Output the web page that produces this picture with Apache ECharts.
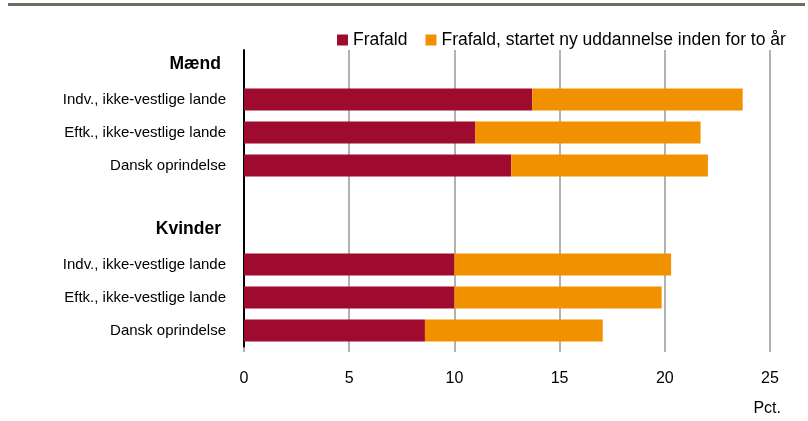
<!DOCTYPE html>
<html>
<head>
<meta charset="utf-8">
<script src="https://cdn.jsdelivr.net/npm/echarts@6/dist/echarts.min.js"></script>
<style>
  html, body { margin: 0; padding: 0; background: #fff; }
  #main { width: 808px; height: 421px; }
</style>
</head>
<body>
<div id="main"></div>
<script>
// rækker, top til bund (overskriftsrækker har ingen søjle)
var categories = ['Mænd', 'Indv., ikke-vestlige lande', 'Eftk., ikke-vestlige lande', 'Dansk oprindelse', '',
                  'Kvinder', 'Indv., ikke-vestlige lande', 'Eftk., ikke-vestlige lande', 'Dansk oprindelse'];
var headers = ['Mænd', 'Kvinder'];
var frafald = ['-', 13.7, 11.0, 12.7, '-', '-', 10.0, 10.0, 8.6];
var frafaldNy = ['-', 10.0, 10.7, 9.35, '-', '-', 10.3, 9.85, 8.45];
var xTicks = [0, 5, 10, 15, 20, 25];

var font = '"Liberation Sans", Arial, sans-serif';

var chart = echarts.init(document.getElementById('main'), null, { renderer: 'canvas' });

var option = {
    animation: false,
    textStyle: { fontFamily: font },
    legend: {
        left: 332,
        top: 26,
        itemWidth: 11,
        itemHeight: 11,
        itemGap: 18,
        icon: 'rect',
        textStyle: { fontFamily: font, fontSize: 17.5, color: '#000' },
        data: ['Frafald', 'Frafald, startet ny uddannelse inden for to år']
    },
    grid: { left: 244, right: 38, top: 50, bottom: 74 },
    xAxis: {
        type: 'value',
        min: xTicks[0],
        max: xTicks[xTicks.length - 1],
        interval: 5,
        axisLine: { show: false },
        axisTick: { show: true, length: 5, lineStyle: { color: '#999', width: 1.5 } },
        splitLine: { show: true, lineStyle: { color: '#999', width: 1.5 } },
        axisLabel: { margin: 24, fontFamily: font, fontSize: 16, color: '#000' }
    },
    yAxis: {
        type: 'category',
        inverse: true,
        data: categories,
        axisLine: { show: true, lineStyle: { color: '#000', width: 2 } },
        axisTick: { show: false },
        axisLabel: {
            margin: 18,
            fontFamily: font,
            fontSize: 15,
            color: '#000',
            formatter: function (v) {
                if (headers.indexOf(v) >= 0) return '{h|' + v + '}';
                return v;
            },
            rich: {
                h: { fontFamily: font, fontSize: 17.5, fontWeight: 'bold', color: '#000', padding: [0, 5, 4, 0] }
            }
        }
    },
    series: [
        {
            name: 'Frafald',
            type: 'bar',
            stack: 'tot',
            barWidth: 22,
            itemStyle: { color: '#9e0b2f' },
            data: frafald
        },
        {
            name: 'Frafald, startet ny uddannelse inden for to år',
            type: 'bar',
            stack: 'tot',
            barWidth: 22,
            itemStyle: { color: '#f29100' },
            data: frafaldNy
        }
    ],
    graphic: [
        { type: 'rect', shape: { x: 8, y: 3, width: 797, height: 3 }, style: { fill: '#716c5e' } },
        { type: 'text', right: 27, top: 401, style: { text: 'Pct.', fontFamily: font, fontSize: 16, fill: '#000' } }
    ]
};

chart.setOption(option);
</script>
</body>
</html>
